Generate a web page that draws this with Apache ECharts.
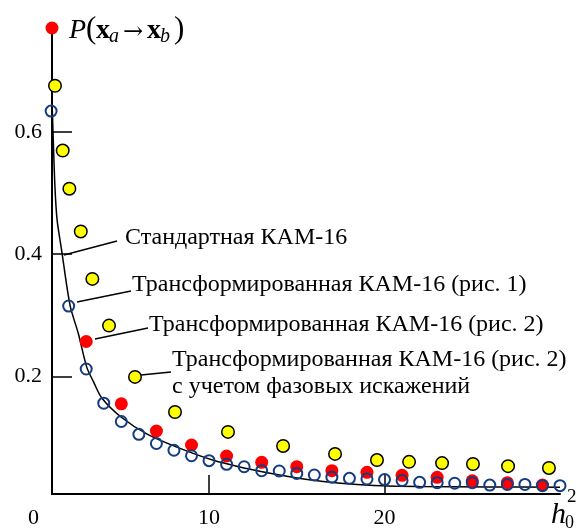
<!DOCTYPE html>
<html><head><meta charset="utf-8">
<script src="https://cdn.jsdelivr.net/npm/echarts@6/dist/echarts.min.js"></script>
<style>html,body{margin:0;padding:0;background:#fff}#c{width:576px;height:529px}</style>
</head><body><div id="c"></div>
<script>
// Standard KAM-16 curve
const stdX = [1.07,1.14,1.225,1.34,1.595,2.08,2.55,3.03,3.4,3.9,5.0,6.5,8.35,10.2,12.15,13.7,15.6,17.5,19.4,22,26,30];
const stdY = [0.634,0.571,0.5055,0.456,0.407,0.316,0.27,0.215,0.192,0.164,0.133,0.105,0.082,0.063,0.049,0.040,0.031,0.025,0.0215,0.0195,0.019,0.0183];
// Transformed KAM-16 (fig. 1) - open blue circles
const ris1X = [1,2,3,4,5,6,7,8,9,10,11,12,13,14,15,16,17,18,19,20,21,22,23,24,25,26,27,28,29,30];
const ris1Y = [0.634,0.315,0.212,0.156,0.126,0.105,0.090,0.079,0.070,0.062,0.056,0.052,0.0455,0.045,0.041,0.0385,0.035,0.033,0.032,0.031,0.0295,0.0265,0.026,0.025,0.026,0.022,0.023,0.023,0.021,0.021];
// Transformed KAM-16 (fig. 2) - red
const ris2X = [3,5,7,9,11,13,15,17,19,21,23,25,27,29];
const ris2Y = [0.257,0.155,0.1105,0.0876,0.0696,0.0593,0.0521,0.0455,0.0429,0.038,0.0347,0.0291,0.0259,0.0221];
// Transformed KAM-16 (fig. 2) with phase distortions - yellow
const ris2pX = [1.22,1.66,2.04,2.69,3.35,4.30,5.78,8.06,11.08,14.22,17.18,19.57,21.4,23.28,25.04,27.04,29.37];
const ris2pY = [0.6755,0.5695,0.507,0.437,0.3594,0.283,0.199,0.1416,0.109,0.086,0.073,0.063,0.060,0.058,0.0565,0.053,0.050];
// ticks
const xTicks = [0,10,20];
const yTicks = [0.2,0.4,0.6];
const labels = ['Стандартная КАМ-16','Трансформированная КАМ-16 (рис. 1)','Трансформированная КАМ-16 (рис. 2)','Трансформированная КАМ-16 (рис. 2)','с учетом фазовых искажений'];

const X_MIN = 1.05, X_MAX = 30, Y_MIN = 0.0074, Y_MAX = 0.77;
const FF = '"Liberation Serif","Times New Roman",serif';
const zip = (a,b) => a.map((v,i)=>[v,b[i]]);

const chart = echarts.init(document.getElementById('c'), null, {renderer:'canvas'});
function txt(t, x, y, font, align, va){
  return {type:'text', z:10, style:{text:t, x:x, y:y, font:font, fill:'#000', align:align||'left', verticalAlign:va||'middle', textAlign:align||'left', textVerticalAlign:va||'middle'}};
}
function ln(x1,y1,x2,y2){
  return {type:'line', z:10, shape:{x1,y1,x2,y2}, style:{stroke:'#000', lineWidth:1.5}};
}
const option = {
  animation:false,
  backgroundColor:'#fff',
  grid:{left:52, right:16, top:28, bottom:35, containLabel:false},
  xAxis:{type:'value', min:X_MIN, max:X_MAX,
    axisLine:{show:true, onZero:false, lineStyle:{color:'#000', width:2}},
    axisTick:{show:true, inside:true, length:19, customValues:xTicks.filter(v=>v>=X_MIN), lineStyle:{color:'#000', width:1.5}},
    axisLabel:{show:true, customValues:xTicks.filter(v=>v>=X_MIN), margin:13, fontSize:22, fontFamily:FF, color:'#000'},
    splitLine:{show:false}},
  yAxis:{type:'value', min:Y_MIN, max:Y_MAX,
    axisLine:{show:true, onZero:false, lineStyle:{color:'#000', width:2}},
    axisTick:{show:true, inside:true, length:20, customValues:yTicks, lineStyle:{color:'#000', width:1.5}},
    axisLabel:{show:true, customValues:yTicks, margin:10, fontSize:22, fontFamily:FF, color:'#000', formatter:v=>String(v)},
    splitLine:{show:false}},
  series:[
    {type:'line', data:zip(stdX,stdY), smooth:0.3, showSymbol:false, symbol:'none', lineStyle:{color:'#000', width:1.5}, z:2, clip:false},
    {type:'scatter', data:zip(ris2pX,ris2pY), symbol:'circle', symbolSize:12.5, itemStyle:{color:'#ffff00', borderColor:'#000', borderWidth:1.5, opacity:1}, z:3, clip:false},
    {type:'scatter', data:zip(ris2X,ris2Y), symbol:'circle', symbolSize:13, itemStyle:{color:'#ff0000', opacity:1}, z:4, clip:false},
    {type:'scatter', data:zip(ris1X,ris1Y), symbol:'circle', symbolSize:11, itemStyle:{color:'rgba(255,255,255,0)', borderColor:'#143c80', borderWidth:2, opacity:1}, z:5, clip:false}
  ]
};
chart.setOption(option);

const p0 = chart.convertToPixel({gridIndex:0}, [xTicks[0], Y_MIN]);
const pTop = chart.convertToPixel({gridIndex:0}, [X_MIN, Y_MAX]);
const g = [
  {type:'circle', z:11, shape:{cx:pTop[0], cy:pTop[1], r:6.5}, style:{fill:'#ff0000'}},
  txt(String(xTicks[0]), p0[0], 518, '22px '+FF, 'center'),
  // y-axis title P(x_a -> x_b)
  txt('P', 69, 31, 'italic 28px '+FF),
  txt('(', 86, 30, '31px '+FF),
  txt('x', 96, 31, 'bold 28px '+FF),
  txt('a', 109, 37, 'italic 20px '+FF),
  txt('\u2192', 123, 33, '24px "DejaVu Serif",serif'),
  txt('x', 147, 31, 'bold 28px '+FF),
  txt('b', 160, 37, 'italic 20px '+FF),
  txt(')', 174, 30, '31px '+FF),
  // x-axis title h_0^2
  txt('h', 551, 515, 'italic 30px '+FF),
  txt('2', 567, 497, '19px '+FF),
  txt('0', 565, 523, '18px '+FF),
  // annotations
  txt(labels[0], 125, 238, '24px '+FF),
  txt(labels[1], 132, 285, '24px '+FF),
  txt(labels[2], 149, 325, '24px '+FF),
  txt(labels[3], 172, 360, '24px '+FF),
  txt(labels[4], 172, 387, '24px '+FF),
  ln(64,255,117,241),
  ln(77,302,131,291),
  ln(95,339,148,328),
  ln(141,375,171,372)
];
chart.setOption({graphic:g});
</script>
</body></html>
